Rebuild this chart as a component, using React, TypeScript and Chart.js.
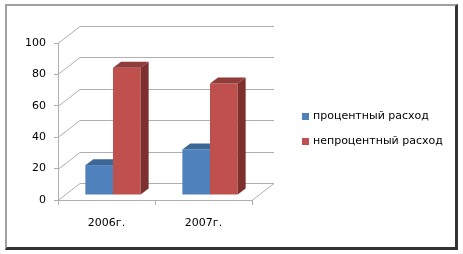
import React, { useEffect, useRef } from "react";
import { Chart, registerables } from "chart.js";

Chart.register(...registerables);

const categories = ["2006г.", "2007г."];
const seriesNames = ["процентный расход", "непроцентный расход"];
const interestValues = [19, 29];
const nonInterestValues = [81, 71];
const yTicks = [0, 20, 40, 60, 80, 100];

const FRONT = ["#4F81BD", "#C0504D"];
const TOP = ["#3B6696", "#8F3C3A"];
const SIDE = ["#2F5580", "#7D302E"];
const GRID = "#AFAFAF";

// 3D projection offsets
const BACK_DX = 22, BACK_DY = -17; // back wall
const PLANE_DX = 6.5, PLANE_DY = -5; // bar front faces
const DEPTH_DX = 8, DEPTH_DY = -6; // bar depth

const threeD = {
  id: "threeD",
  beforeDatasetsDraw(chart: any) {
    const { ctx, chartArea } = chart;
    const y = chart.scales.y;
    const { left, right, bottom } = chartArea;
    ctx.save();
    ctx.strokeStyle = GRID;
    ctx.lineWidth = 1;
    ctx.beginPath();
    yTicks.forEach((v) => {
      const py = Math.round(y.getPixelForValue(v)) + 0.5;
      ctx.moveTo(left, py);
      ctx.lineTo(left + BACK_DX, py + BACK_DY);
      ctx.lineTo(right + BACK_DX, py + BACK_DY);
    });
    const b = Math.round(bottom) + 0.5;
    ctx.moveTo(right, b);
    ctx.lineTo(right + BACK_DX, b + BACK_DY);
    ctx.stroke();
    ctx.restore();
  },
  // default per-dataset painting is replaced by the ordered 3D painting below
  beforeDatasetDraw() {
    return false;
  },
  afterDatasetsDraw(chart: any) {
    const { ctx, chartArea } = chart;
    ctx.save();
    ctx.translate(PLANE_DX, PLANE_DY);
    chart.data.datasets.forEach((_: any, i: number) => {
      const meta = chart.getDatasetMeta(i);
      meta.data.forEach((bar: any) => {
        bar.draw(ctx, chartArea);
        const p = bar.getProps(["x", "y", "base", "width"], true);
        const l = p.x - p.width / 2;
        const r = p.x + p.width / 2;
        ctx.fillStyle = TOP[i];
        ctx.beginPath();
        ctx.moveTo(l, p.y);
        ctx.lineTo(r, p.y);
        ctx.lineTo(r + DEPTH_DX, p.y + DEPTH_DY);
        ctx.lineTo(l + DEPTH_DX, p.y + DEPTH_DY);
        ctx.closePath();
        ctx.fill();
        ctx.fillStyle = SIDE[i];
        ctx.beginPath();
        ctx.moveTo(r, p.y);
        ctx.lineTo(r + DEPTH_DX, p.y + DEPTH_DY);
        ctx.lineTo(r + DEPTH_DX, p.base + DEPTH_DY);
        ctx.lineTo(r, p.base);
        ctx.closePath();
        ctx.fill();
      });
    });
    ctx.restore();
  },
};

export default function App() {
  const ref = useRef<HTMLCanvasElement>(null);
  useEffect(() => {
    const chart = new Chart(ref.current!, {
      type: "bar",
      data: {
        labels: categories,
        datasets: [
          { label: seriesNames[0], data: interestValues, backgroundColor: FRONT[0] },
          { label: seriesNames[1], data: nonInterestValues, backgroundColor: FRONT[1] },
        ],
      },
      options: {
        responsive: false,
        animation: false,
        devicePixelRatio: 1,
        layout: { padding: { left: 0, top: 43, right: 211, bottom: 0 } },
        plugins: { legend: { display: false }, tooltip: { enabled: false } },
        datasets: { bar: { categoryPercentage: 0.57, barPercentage: 1 } },
        scales: {
          x: {
            grid: { drawOnChartArea: false, tickLength: 5, color: GRID, offset: true },
            border: { color: GRID },
            ticks: { color: "#000", font: { family: "DejaVu Sans", size: 11 }, padding: 12 },
            afterFit: (s: any) => { s.height = 54; },
          },
          y: {
            min: 0,
            max: 100,
            grid: { drawOnChartArea: false, tickLength: 4, color: GRID },
            border: { color: GRID },
            ticks: { stepSize: 20, color: "#000", font: { family: "DejaVu Sans", size: 11 }, padding: 8 },
            afterFit: (s: any) => { s.width = 58; },
          },
        },
      },
      plugins: [threeD],
    });
    return () => chart.destroy();
  }, []);

  const legendItem = (i: number, top: number) => (
    <div style={{ position: "absolute", left: 302, top, height: 14, display: "flex", alignItems: "center" }}>
      <div style={{ width: 7, height: 7, background: FRONT[i], marginRight: 4 }} />
      <span style={{ fontFamily: "DejaVu Sans", fontSize: 11, color: "#000", whiteSpace: "nowrap", lineHeight: "14px" }}>
        {seriesNames[i]}
      </span>
    </div>
  );

  return (
    <div style={{ position: "fixed", left: 0, top: 0, width: 463, height: 254, background: "#fff" }}>
      <div
        style={{
          position: "absolute", left: 5, top: 4, width: 453, height: 246, boxSizing: "border-box",
          borderTop: "2px solid #A0A0A0", borderLeft: "2px solid #A0A0A0",
          borderRight: "3px solid #333", borderBottom: "3px solid #333",
        }}
      />
      <canvas ref={ref} width={463} height={254} style={{ position: "absolute", left: 0, top: 0 }} />
      {legendItem(0, 109)}
      {legendItem(1, 134)}
    </div>
  );
}
